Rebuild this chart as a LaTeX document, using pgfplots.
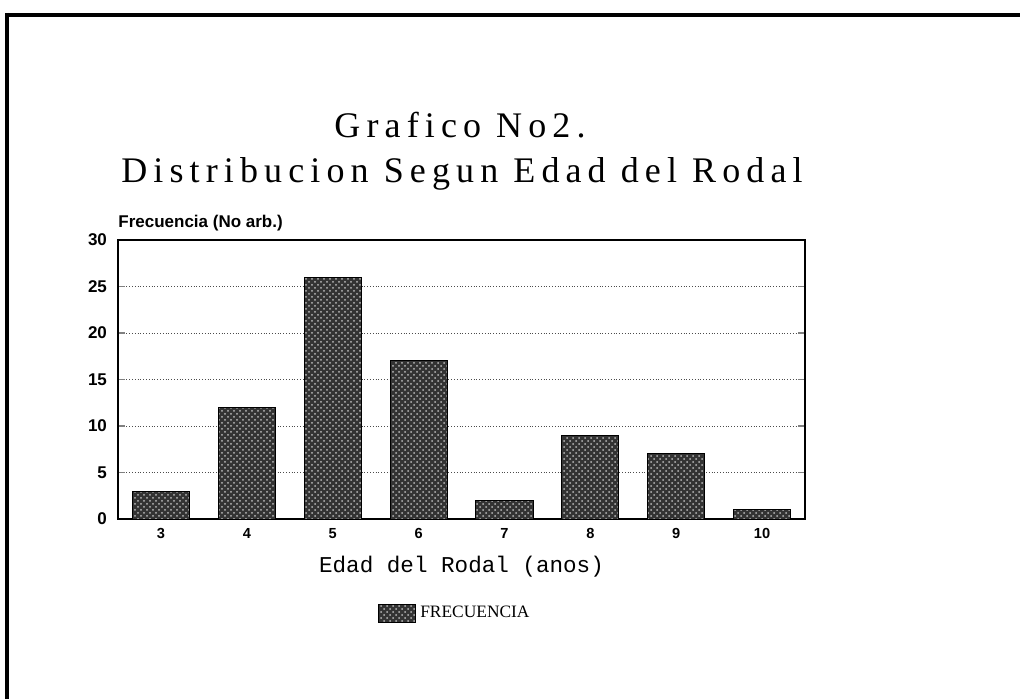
\documentclass[border=0pt]{standalone}
\usepackage{fontspec}
\usepackage{pgfplots}
\pgfplotsset{compat=1.18}
\usetikzlibrary{patterns}
\setmainfont{Liberation Serif}
\newfontfamily\sansb{Liberation Sans}
\newfontfamily\titlefont[LetterSpace=17]{Liberation Serif}
\newfontfamily\labfont{Liberation Mono}
\begin{document}
\begin{tikzpicture}
\useasboundingbox (0,0) rectangle (510pt,349.5pt);
\draw[line width=2pt] (2.5pt,342pt) -- (510pt,342pt);
\draw[line width=2pt] (3.5pt,343pt) -- (3.5pt,0pt);
\node[font=\titlefont\fontsize{18}{20}\selectfont, anchor=base, inner sep=0pt] at (230pt,280.5pt) {Grafico No2.};
\node[font=\titlefont\fontsize{18}{20}\selectfont, anchor=base, inner sep=0pt] at (231pt,258pt) {Distribucion Segun Edad del Rodal};
\begin{axis}[
  at={(59pt,90pt)}, anchor=south west,
  scale only axis, width=343.5pt, height=139.5pt,
  xmin=2.5, xmax=10.5, ymin=0, ymax=30,
  ybar, bar width=0.665,
  xtick={3,4,5,6,7,8,9,10},
  ytick={0,5,10,15,20,25,30},
  axis line style={line width=0.8pt},
  x tick style={draw=none},
  y tick style={line width=0.6pt},
  major tick length=3.5pt,
  tick align=inside,
  ymajorgrids,
  grid style={densely dotted, black!70, line width=0.4pt},
  yticklabel style={font=\sansb\bfseries\fontsize{8.5}{10}\selectfont, xshift=-2pt},
  xticklabel style={font=\sansb\bfseries\fontsize{7.3}{9}\selectfont, yshift=-1pt},
  /pgf/number format/assume math mode=true,
  xlabel={Edad del Rodal (anos)},
  xlabel style={font=\labfont\fontsize{11.3}{13}\selectfont, yshift=-2pt},
  legend style={at={(0.492,-0.337)}, anchor=center, draw=none, fill=none,
    font=\fontsize{8.7}{10}\selectfont},
  legend image code/.code={\draw[#1] (-3pt,-4.5pt) rectangle (15.5pt,4.5pt);},
  clip=false,
]
\addplot[draw=black, line width=0.4pt, fill=black!80,
  postaction={pattern=crosshatch dots, pattern color=gray!55}]
  coordinates {(3,3) (4,12) (5,26) (6,17) (7,2) (8,9) (9,7) (10,1)};
\addlegendentry{FRECUENCIA}
\end{axis}
\node[anchor=base west, font=\sansb\bfseries\fontsize{8.5}{10}\selectfont, inner sep=0pt] at (59pt,235.5pt) {Frecuencia (No arb.)};
\end{tikzpicture}
\end{document}
